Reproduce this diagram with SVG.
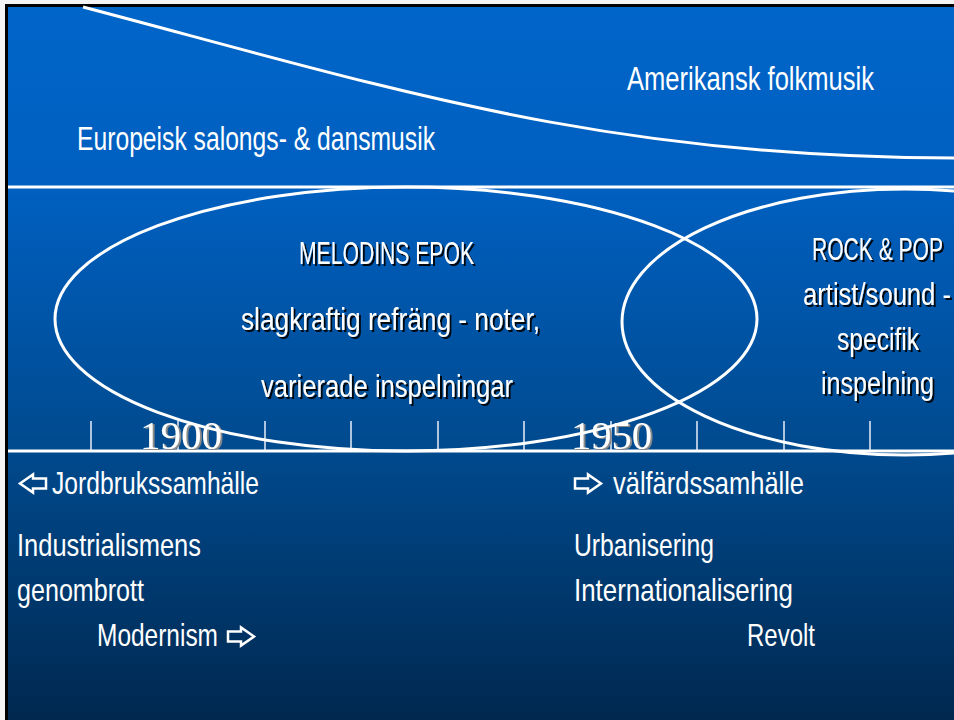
<svg xmlns="http://www.w3.org/2000/svg" width="954" height="720" viewBox="0 0 954 720">
<defs>
<linearGradient id="bg" x1="0" y1="7" x2="0" y2="720" gradientUnits="userSpaceOnUse">
<stop offset="0" stop-color="#0065c9"/>
<stop offset="0.26" stop-color="#005fbf"/>
<stop offset="0.62" stop-color="#004a8e"/>
<stop offset="1" stop-color="#00284f"/>
</linearGradient>
<filter id="shd" x="-10%" y="-30%" width="120%" height="160%">
<feDropShadow dx="2" dy="2" stdDeviation="0.3" flood-color="#000" flood-opacity="0.9"/>
</filter>
<filter id="shy" x="-10%" y="-30%" width="120%" height="160%">
<feDropShadow dx="2" dy="1" stdDeviation="0.2" flood-color="#8a8a8a" flood-opacity="1"/>
</filter>
</defs>
<style>
.t{font-family:"Liberation Sans Narrow","Liberation Sans",Arial,sans-serif;fill:#fff;font-size:32px}
.big{font-size:33px}
.mid{font-size:31px}
.yr{font-family:"Liberation Serif","Times New Roman",serif;fill:#fff;font-size:41px}
.ln{fill:none;stroke:#fff;stroke-width:3}
.tk{stroke:#e8eef8;stroke-width:1.5}
.ar{fill:none;stroke:#fff;stroke-width:2.5;stroke-linejoin:miter}
</style>
<rect x="0" y="0" width="954" height="720" fill="#f4f4f4"/>
<rect x="5" y="4" width="949" height="716" fill="#000"/>
<rect x="8" y="7" width="946" height="713" fill="url(#bg)"/>

<g id="connectors">
<path class="ln" d="M83,7 C380,85 600,158 954,158"/>
<line class="ln" x1="8" y1="187" x2="954" y2="187"/>
<g id="ticks">
<line class="tk" x1="91" y1="421" x2="91" y2="451"/>
<line class="tk" x1="178" y1="421" x2="178" y2="451"/>
<line class="tk" x1="265" y1="421" x2="265" y2="451"/>
<line class="tk" x1="351" y1="421" x2="351" y2="451"/>
<line class="tk" x1="438" y1="421" x2="438" y2="451"/>
<line class="tk" x1="524" y1="421" x2="524" y2="451"/>
<line class="tk" x1="611" y1="421" x2="611" y2="451"/>
<line class="tk" x1="697" y1="421" x2="697" y2="451"/>
<line class="tk" x1="784" y1="421" x2="784" y2="451"/>
<line class="tk" x1="870" y1="421" x2="870" y2="451"/>
</g>
<line class="ln" x1="8" y1="451" x2="954" y2="451"/>
</g>

<g id="years">
<text class="yr" x="140" y="449" textLength="82" lengthAdjust="spacingAndGlyphs" filter="url(#shy)">1900</text>
<text class="yr" x="571" y="449" textLength="81" lengthAdjust="spacingAndGlyphs" filter="url(#shy)">1950</text>
</g>

<g id="melodins-epok">
<ellipse class="ln" cx="406" cy="319" rx="351" ry="132"/>
<g filter="url(#shd)">
<text class="t mid" x="299" y="264" textLength="175" lengthAdjust="spacingAndGlyphs">MELODINS EPOK</text>
<text class="t mid" x="241" y="330" textLength="299" lengthAdjust="spacingAndGlyphs">slagkraftig refräng - noter,</text>
<text class="t mid" x="261" y="397" textLength="252" lengthAdjust="spacingAndGlyphs">varierade inspelningar</text>
</g>
</g>

<g id="rock-pop">
<ellipse class="ln" cx="905" cy="322" rx="283" ry="133"/>
<g filter="url(#shd)">
<text class="t mid" x="812" y="260" textLength="131" lengthAdjust="spacingAndGlyphs">ROCK &amp; POP</text>
<text class="t mid" x="803" y="305" textLength="148" lengthAdjust="spacingAndGlyphs">artist/sound -</text>
<text class="t mid" x="837" y="350" textLength="82" lengthAdjust="spacingAndGlyphs">specifik</text>
<text class="t mid" x="821" y="394" textLength="113" lengthAdjust="spacingAndGlyphs">inspelning</text>
</g>
</g>

<g id="europeisk">
<text class="t big" x="77" y="150" textLength="358" lengthAdjust="spacingAndGlyphs">Europeisk salongs- &amp; dansmusik</text>
</g>
<g id="amerikansk">
<text class="t big" x="627" y="90" textLength="247" lengthAdjust="spacingAndGlyphs">Amerikansk folkmusik</text>
</g>

<g id="jordbruk">
<path class="ar" d="M20,483.5 L33,474.5 L33,478.5 L46,478.5 L46,488.5 L33,488.5 L33,492.5 Z"/>
<text class="t" x="52" y="494" textLength="207" lengthAdjust="spacingAndGlyphs">Jordbrukssamhälle</text>
</g>
<g id="valfard">
<path class="ar" d="M601,483.5 L588,474.5 L588,478.5 L575,478.5 L575,488.5 L588,488.5 L588,492.5 Z"/>
<text class="t" x="613" y="494" textLength="191" lengthAdjust="spacingAndGlyphs">välfärdssamhälle</text>
</g>
<g id="industri">
<text class="t" x="17" y="556" textLength="184" lengthAdjust="spacingAndGlyphs">Industrialismens</text>
<text class="t" x="17" y="601" textLength="127" lengthAdjust="spacingAndGlyphs">genombrott</text>
</g>
<g id="modernism">
<text class="t" x="97" y="646" textLength="121" lengthAdjust="spacingAndGlyphs">Modernism</text>
<path class="ar" d="M254,636.5 L241,627.5 L241,631.5 L228,631.5 L228,641.5 L241,641.5 L241,645.5 Z"/>
</g>
<g id="urban">
<text class="t" x="574" y="556" textLength="140" lengthAdjust="spacingAndGlyphs">Urbanisering</text>
<text class="t" x="574" y="601" textLength="219" lengthAdjust="spacingAndGlyphs">Internationalisering</text>
</g>
<g id="revolt">
<text class="t" x="747" y="646" textLength="68" lengthAdjust="spacingAndGlyphs">Revolt</text>
</g>
</svg>
